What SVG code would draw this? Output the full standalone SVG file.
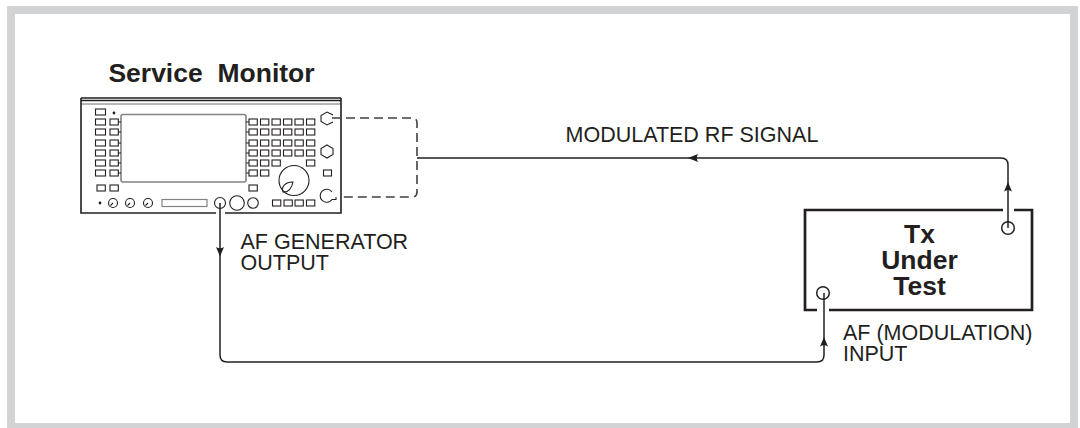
<svg xmlns="http://www.w3.org/2000/svg" width="1080" height="428" viewBox="0 0 1080 428">
<defs>
<style>
.l{fill:none;stroke:#231f20;stroke-width:1.5}
.k{fill:none;stroke:#231f20;stroke-width:1.1}
.s{fill:none;stroke:#808285;stroke-width:1.6}
.d{fill:none;stroke:#414042;stroke-width:1.6;stroke-dasharray:9 5}
.t{font-family:"Liberation Sans",Arial,sans-serif;font-size:21.500px;fill:#231f20}
.b{font-family:"Liberation Sans",Arial,sans-serif;font-size:26.500px;font-weight:bold;fill:#231f20;text-anchor:middle}
.a{fill:#231f20;stroke:none}
</style>
<rect id="key" width="8.300" height="6" class="k"/>
<rect id="key2" width="10" height="6" class="k"/>
</defs>
<rect x="11" y="10" width="1063" height="417" fill="#fff" stroke="#d1d3d4" stroke-width="8"/>
<g id="service-monitor">
<text x="211.500" y="82" class="b" style="white-space:pre">Service  Monitor</text>
<path class="l" d="M81 98H341M81 100.500H341"/>
<path d="M81 104H341" fill="none" stroke="#6d6e70" stroke-width="1.2"/>
<path d="M81 98V213H216M225 213H341V98" fill="none" stroke="#231f20" stroke-width="1.6"/>
<rect x="121" y="114.500" width="125" height="67.500" rx="2" class="s"/>
<use href="#key2" x="95.500" y="109"/>
<use href="#key2" x="95.500" y="119"/><use href="#key" x="110" y="119"/>
<use href="#key2" x="95.500" y="129"/><use href="#key" x="110" y="129"/>
<use href="#key2" x="95.500" y="140"/><use href="#key" x="110" y="140"/>
<use href="#key2" x="95.500" y="150"/><use href="#key" x="110" y="150"/>
<use href="#key2" x="95.500" y="160"/><use href="#key" x="110" y="160"/>
<use href="#key2" x="95.500" y="170"/><use href="#key" x="110" y="170"/>
<use href="#key" x="97" y="185"/><use href="#key" x="110" y="185"/>
<path class="k" d="M118 122H121M118 132H121M118 143H121M118 153H121M118 163H121M118 173H121M246 122H249M246 132H249M246 143H249M246 153H249M246 163H249M246 173H249"/>
<circle cx="114" cy="113" r="1.400" class="a"/>
<circle cx="100" cy="203" r="1.400" class="a"/>
<g class="k">
<circle cx="113" cy="203" r="4.500"/><path d="M110.500 205.500l2.500-2.500"/>
<circle cx="130" cy="203" r="4.500"/><path d="M127.500 205.500l2.500-2.500"/>
<circle cx="148" cy="203" r="4.500"/><path d="M145.500 205.500l2.500-2.500"/>
</g>
<rect x="162" y="199.500" width="45" height="7" fill="none" stroke="#808285" stroke-width="1.200"/>
<circle cx="220" cy="203" r="5.500" class="k"/>
<circle cx="237" cy="203" r="7.300" class="k"/>
<circle cx="253" cy="203" r="5.300" class="k"/>
<use href="#key" x="249" y="119"/><use href="#key" x="260.500" y="119"/><use href="#key" x="272" y="119"/><use href="#key" x="283.500" y="119"/><use href="#key" x="295" y="119"/><use href="#key" x="306.500" y="119"/>
<use href="#key" x="249" y="129"/><use href="#key" x="260.500" y="129"/><use href="#key" x="272" y="129"/><use href="#key" x="283.500" y="129"/><use href="#key" x="295" y="129"/><use href="#key" x="306.500" y="129"/>
<use href="#key" x="249" y="140"/><use href="#key" x="260.500" y="140"/><use href="#key" x="272" y="140"/><use href="#key" x="283.500" y="140"/><use href="#key" x="295" y="140"/><use href="#key" x="306.500" y="140"/>
<use href="#key" x="249" y="150"/><use href="#key" x="260.500" y="150"/><use href="#key" x="272" y="150"/><use href="#key" x="283.500" y="150"/><use href="#key" x="295" y="150"/><use href="#key" x="306.500" y="150"/>
<use href="#key" x="249" y="160"/><use href="#key" x="260.500" y="160"/><use href="#key" x="272" y="160"/><use href="#key" x="306.500" y="160"/>
<use href="#key" x="249" y="170"/><use href="#key" x="260.500" y="170"/>
<use href="#key" x="249" y="185"/>
<use href="#key" x="272.500" y="200"/><use href="#key" x="284" y="200"/><use href="#key" x="295" y="200"/><use href="#key" x="306.500" y="200"/>
<circle cx="294" cy="180.500" r="15" class="k"/>
<path class="k" d="M283 192c-2-5 2-10 10-10 -1 6-5 11-10 10z"/>
<path class="k" d="M333 115L327 112L321 115.500V121.500L327 125L333 122"/>
<path class="k" d="M327 145L333 148.500V154.500L327 158L321 154.500V148.500z"/>
<rect x="323.500" y="170" width="8" height="6" class="k"/>
<path class="k" d="M332 192a6.500 6.500 0 1 0 0 7.500H336V197"/>
</g>
<g id="tx-under-test">
<path d="M1003 210H805V310H817M829 310H1032V210H1014" fill="none" stroke="#231f20" stroke-width="2.700"/>
<circle cx="1008" cy="228" r="6.300" class="l"/>
<circle cx="823" cy="293" r="6.300" class="l"/>
<text class="b"><tspan x="919.500" y="243">Tx</tspan><tspan x="919.500" y="269">Under</tspan><tspan x="919.500" y="295">Test</tspan></text>
</g>
<g id="connectors">
<path class="d" d="M332 118H412Q417 118 417 123V192Q417 197 412 197H340"/>
<path class="l" d="M417 158H1001Q1008 158 1008 165V228"/>
<path class="a" d="M688 158l10-4q-2.500 4 0 8z"/>
<path class="a" d="M1008 182l-4 9.500q4-2.500 8 0z"/>
<path class="l" d="M220 203V355Q220 362 227 362H817Q824 362 824 355V293"/>
<path class="a" d="M220 256.500l-4-9.500q4 2.500 8 0z"/>
<path class="a" d="M824 337l-4 9.500q4-2.500 8 0z"/>
</g>
<g id="labels">
<text x="565.500" y="142" class="t">MODULATED RF SIGNAL</text>
<text class="t"><tspan x="240.500" y="249">AF GENERATOR</tspan><tspan x="240.500" y="270">OUTPUT</tspan></text>
<text class="t"><tspan x="843" y="340">AF (MODULATION)</tspan><tspan x="843" y="361">INPUT</tspan></text>
</g>
</svg>
